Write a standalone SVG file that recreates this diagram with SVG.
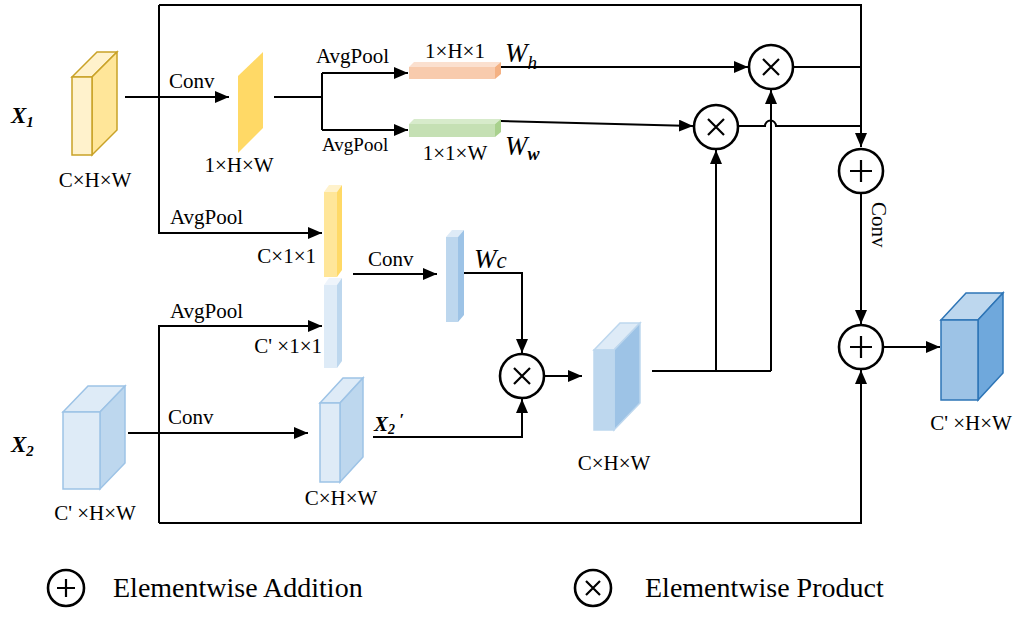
<svg xmlns="http://www.w3.org/2000/svg" width="1019" height="618" viewBox="0 0 1019 618" font-family="'Liberation Serif', 'DejaVu Serif', 'Times New Roman', serif">
<style>
text{font-family:"Liberation Serif","DejaVu Serif","Times New Roman",serif;fill:#000}
.t{font-size:21px}
.m{text-anchor:middle}
.e{text-anchor:end}
.ln{fill:none;stroke:#000;stroke-width:2}
.op{fill:#fff;stroke:#000;stroke-width:2.6}
.sym{stroke:#000;stroke-width:2.2;fill:none}
.w{font-style:italic;font-size:27px}
.bx{font-style:italic;font-weight:bold}
.lg{font-size:28px}
</style>
<defs>
<marker id="ah" markerUnits="userSpaceOnUse" markerWidth="14" markerHeight="12" refX="14" refY="6" orient="auto">
<path d="M0,0 L14,6 L0,12 Z" fill="#000"/>
</marker>
<g id="plus"><circle r="22" class="op"/><path class="sym" d="M-11,0 H11 M0,-11 V11"/></g>
<g id="times"><circle r="22" class="op"/><path class="sym" d="M-8,-8 L8,8 M8,-8 L-8,8"/></g>
</defs>

<g id="connectors">
<path class="ln" d="M159,5 L861,5 L861,147" marker-end="url(#ah)"/>
<path class="ln" d="M159,5 L159,233 L322,233" marker-end="url(#ah)"/>
<path class="ln" d="M125,97 L229,97" marker-end="url(#ah)"/>
<path class="ln" d="M274,97 L322,97"/>
<path class="ln" d="M322,73 L322,130"/>
<path class="ln" d="M322,73 L408,73" marker-end="url(#ah)"/>
<path class="ln" d="M322,130 L408,130" marker-end="url(#ah)"/>
<path class="ln" d="M501,67 L748,67" marker-end="url(#ah)"/>
<path class="ln" d="M501,121 L693,126" marker-end="url(#ah)"/>
<path class="ln" d="M794,67 L861,67"/>
<path class="ln" d="M738,126 L765,126 A5,5 0 0 1 776,126 L861,126"/>
<path class="ln" d="M771,371 L771,90" marker-end="url(#ah)"/>
<path class="ln" d="M716,371 L716,150" marker-end="url(#ah)"/>
<path class="ln" d="M652,371 L771,371"/>
<path class="ln" d="M861,193 L861,324" marker-end="url(#ah)"/>
<path class="ln" d="M883,347 L940,347" marker-end="url(#ah)"/>
<path class="ln" d="M159,523 L159,326 L322,326" marker-end="url(#ah)"/>
<path class="ln" d="M159,523 L861,523 L861,370" marker-end="url(#ah)"/>
<path class="ln" d="M128,433 L308,433" marker-end="url(#ah)"/>
<path class="ln" d="M373,437 L522,437 L522,399" marker-end="url(#ah)"/>
<path class="ln" d="M353,274 L437,274" marker-end="url(#ah)"/>
<path class="ln" d="M464,273 L522,273 L522,353" marker-end="url(#ah)"/>
<path class="ln" d="M544,376 L582,376" marker-end="url(#ah)"/>
<text class="t" x="169" y="88">Conv</text>
<text class="t" x="316" y="63">AvgPool</text>
<text x="322" y="151" style="font-size:19px">AvgPool</text>
<text class="t" x="170" y="224">AvgPool</text>
<text class="t" x="170" y="318">AvgPool</text>
<text class="t" x="368" y="266">Conv</text>
<text class="t" x="168" y="424">Conv</text>
<text class="t" transform="translate(872,202) rotate(90)">Conv</text>
</g>

<g id="x1">
<text class="bx" x="11" y="123" style="font-size:23px">X<tspan dy="4" style="font-size:15px">1</tspan></text>
<polygon points="72,77 97,52 117,52 92,77" fill="#FFF2CC" stroke="#C9A227" stroke-width="1.5"/>
<polygon points="92,77 117,52 117,130 92,155" fill="#FFE699" stroke="#C9A227" stroke-width="1.5"/>
<rect x="72" y="77" width="20" height="78" fill="#FFF2CC" stroke="#C9A227" stroke-width="1.5"/>
<text class="t m" x="95" y="187">C×H×W</text>
</g>

<g id="conv1">
<polygon points="238,76 263,52 263,128 238,153" fill="#FFD966"/>
<text class="t m" x="239" y="172">1×H×W</text>
</g>

<g id="wh">
<polygon points="409,67 414,62 501,62 495,67" fill="#FBE0CF"/>
<rect x="409" y="67" width="86" height="12" fill="#F8CBAD"/>
<polygon points="495,67 501,62 501,74 495,79" fill="#F4B183"/>
<text class="t m" x="455" y="58">1×H×1</text>
<text class="w" x="505" y="62">W<tspan dy="7" style="font-size:19px">h</tspan></text>
</g>

<g id="ww">
<polygon points="409,124 414,119 501,119 495,124" fill="#D7EBCB"/>
<rect x="409" y="124" width="86" height="13" fill="#C5E0B4"/>
<polygon points="495,124 501,119 501,132 495,137" fill="#A9D18E"/>
<text class="t m" x="455" y="160">1×1×W</text>
<text class="w" x="505" y="155">W<tspan dy="5" style="font-size:18px;font-weight:bold">w</tspan></text>
</g>

<g id="c11">
<polygon points="324,192 329,185 342,185 337,192" fill="#FFF2CC"/>
<rect x="324" y="192" width="13" height="85" fill="#FFE699"/>
<polygon points="337,192 342,185 342,270 337,277" fill="#FFD966"/>
<text class="t e" x="316" y="263">C×1×1</text>
</g>

<g id="cp11">
<polygon points="324,285 329,278 342,278 337,285" fill="#EEF4FB"/>
<rect x="324" y="285" width="13" height="83" fill="#DEEBF7"/>
<polygon points="337,285 342,278 342,361 337,368" fill="#BDD7EE"/>
<text class="t e" x="322" y="353">C' ×1×1</text>
</g>

<g id="wc">
<polygon points="446,237 452,230 464,230 458,237" fill="#DEEBF7"/>
<rect x="446" y="237" width="12" height="85" fill="#BDD7EE"/>
<polygon points="458,237 464,230 464,315 458,322" fill="#9DC3E6"/>
<text class="w" x="474" y="268">W<tspan style="font-size:23px">c</tspan></text>
</g>

<g id="x2">
<text class="bx" x="11" y="452" style="font-size:23px">X<tspan dy="4" style="font-size:15px">2</tspan></text>
<polygon points="63,412 88,386 125,386 100,412" fill="#DEEBF7" stroke="#9DC3E6" stroke-width="1.5"/>
<polygon points="100,412 125,386 125,463 100,489" fill="#BDD7EE" stroke="#9DC3E6" stroke-width="1.5"/>
<rect x="63" y="412" width="37" height="77" fill="#DEEBF7" stroke="#9DC3E6" stroke-width="1.5"/>
<text class="t m" x="95" y="520">C' ×H×W</text>
</g>

<g id="x2p">
<polygon points="320,403 343,378 363,378 340,403" fill="#DEEBF7" stroke="#9DC3E6" stroke-width="1.5"/>
<polygon points="340,403 363,378 363,457 340,482" fill="#BDD7EE" stroke="#9DC3E6" stroke-width="1.5"/>
<rect x="320" y="403" width="20" height="79" fill="#DEEBF7" stroke="#9DC3E6" stroke-width="1.5"/>
<text class="t m" x="341" y="505">C×H×W</text>
<text class="bx" x="374" y="431" style="font-size:21px">X<tspan dy="3" style="font-size:14px">2</tspan><tspan dy="-9" style="font-size:17px"> ′</tspan></text>
</g>

<g id="mid">
<polygon points="594,350 620,323 640,323 614,350" fill="#DEEBF7" stroke="#BDD7EE" stroke-width="1.5"/>
<polygon points="614,350 640,323 640,403 614,430" fill="#9DC3E6" stroke="#BDD7EE" stroke-width="1.5"/>
<rect x="594" y="350" width="20" height="80" fill="#BDD7EE" stroke="#BDD7EE" stroke-width="1.5"/>
<text class="t m" x="614" y="470">C×H×W</text>
</g>

<g id="out">
<polygon points="941,320 966,293 1003,293 978,320" fill="#BDD7EE" stroke="#2E75B6" stroke-width="1.5"/>
<polygon points="978,320 1003,293 1003,373 978,400" fill="#6FA8DC" stroke="#2E75B6" stroke-width="1.5"/>
<rect x="941" y="320" width="37" height="80" fill="#9DC3E6" stroke="#2E75B6" stroke-width="1.5"/>
<text class="t m" x="971" y="430">C' ×H×W</text>
</g>

<g id="opA"><use href="#times" x="771" y="67"/></g>
<g id="opB"><use href="#times" x="716" y="127"/></g>
<g id="opC"><use href="#plus" x="861" y="171"/></g>
<g id="opD"><use href="#plus" x="861" y="347"/></g>
<g id="opE"><use href="#times" x="522" y="376"/></g>

<g id="legend">
<circle cx="66" cy="588" r="18" class="op"/>
<path class="sym" d="M57,588 H75 M66,579 V597"/>
<text class="lg" x="113" y="597">Elementwise Addition</text>
<circle cx="593" cy="588" r="18" class="op"/>
<path class="sym" d="M586,581 L600,595 M600,581 L586,595"/>
<text class="lg" x="645" y="597">Elementwise Product</text>
</g>
</svg>
